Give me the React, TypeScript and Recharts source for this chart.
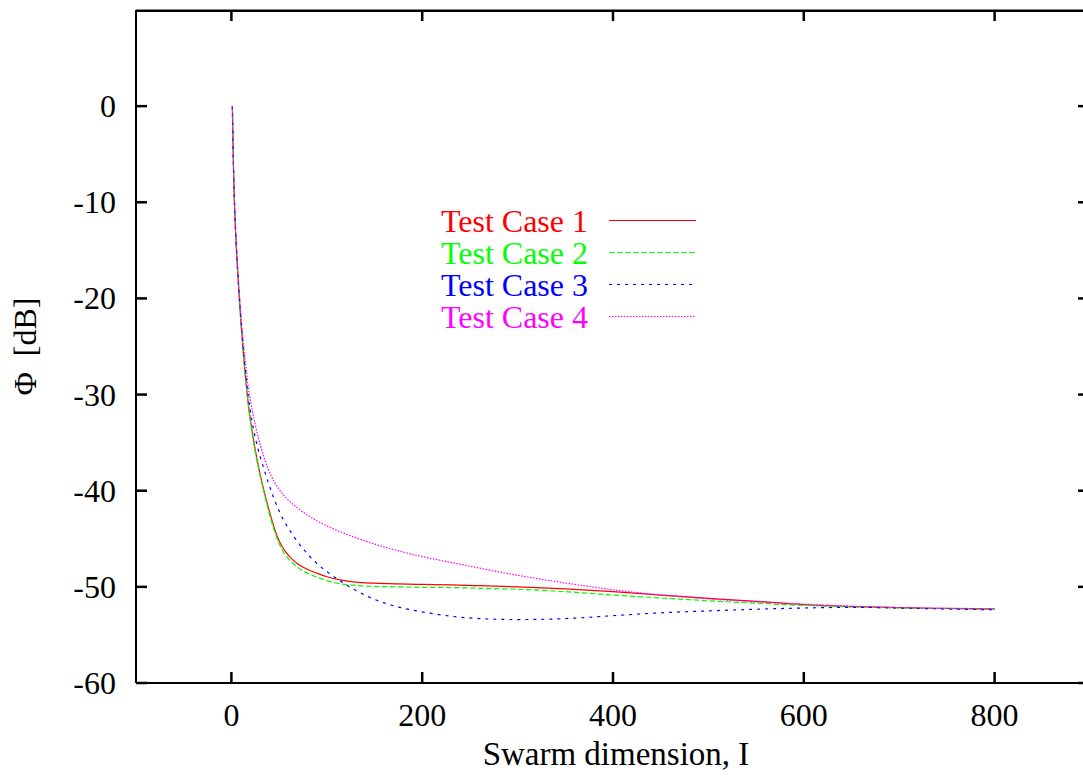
import React from 'react';
import { LineChart, Line, XAxis, YAxis, Legend, ReferenceLine } from 'recharts';

const swarmDim = [1, 2, 3, 4, 6, 8, 10, 12, 14, 18, 22, 27, 34, 42, 46, 50, 55, 60, 65, 70, 80, 90, 100, 115, 130, 150, 175, 200, 230, 260, 300, 350, 400, 450, 500, 550, 600, 650, 700, 750, 800];

const case1 = [0, -5.5, -9.5, -12.2, -16.3, -19.6, -22.5, -25.1, -27.4, -31.2, -34.0, -36.8, -39.95, -42.9, -44.2, -45.2, -46.1, -46.75, -47.25, -47.65, -48.2, -48.6, -48.95, -49.3, -49.5, -49.62, -49.7, -49.75, -49.8, -49.88, -50.0, -50.22, -50.5, -50.85, -51.2, -51.5, -51.85, -52.05, -52.17, -52.24, -52.3];
const case2 = [0, -5.5, -9.5, -12.2, -16.3, -19.6, -22.5, -25.1, -27.4, -31.3, -34.2, -37.0, -40.1, -43.2, -44.45, -45.5, -46.45, -47.1, -47.6, -48.0, -48.6, -49.0, -49.35, -49.7, -49.85, -49.95, -50.0, -50.05, -50.07, -50.15, -50.25, -50.5, -50.85, -51.15, -51.45, -51.7, -51.93, -52.08, -52.2, -52.26, -52.3];
const case3 = [0, -5.5, -9.5, -12.1, -16.1, -19.3, -22.1, -24.6, -26.8, -30.4, -33.0, -35.3, -37.7, -40.1, -41.15, -42.1, -43.1, -43.95, -44.7, -45.4, -46.6, -47.6, -48.4, -49.45, -50.35, -51.3, -52.1, -52.6, -53.05, -53.3, -53.4, -53.3, -53.0, -52.7, -52.5, -52.33, -52.2, -52.13, -52.2, -52.3, -52.38];
const case4 = [0, -5.4, -9.3, -11.9, -15.8, -19.0, -21.7, -24.0, -26.0, -29.4, -31.7, -34.0, -36.5, -38.5, -39.25, -39.85, -40.5, -41.0, -41.45, -41.85, -42.55, -43.15, -43.65, -44.3, -44.88, -45.55, -46.25, -46.85, -47.45, -48.05, -48.8, -49.6, -50.3, -50.85, -51.25, -51.55, -51.8, -52.0, -52.15, -52.25, -52.3];

const seriesNames = ['Test Case 1', 'Test Case 2', 'Test Case 3', 'Test Case 4'];
const seriesKeys = ['c1', 'c2', 'c3', 'c4'];
const seriesColors = ['#ff0000', '#00ff00', '#0000ff', '#ff00ff'];
const seriesDash = ['', '5.5 2.5', '3 5', '1.5 1.5'];

const xTicks = [0, 200, 400, 600, 800];
const yTicks = [-60, -50, -40, -30, -20, -10, 0];
const X_DOMAIN: [number, number] = [-100, 900];
const Y_DOMAIN: [number, number] = [-60, 10];

const data = swarmDim.map((x, i) => ({ x, c1: case1[i], c2: case2[i], c3: case3[i], c4: case4[i] }));

const FONT = "'Liberation Serif', 'Times New Roman', serif";
const TICK_LEN = 11;
const FRAME_W = 2.5;
const FRAME_C = '#000000';

const XTickBottom = (p: any) => (
  <g>
    <rect x={p.x - FRAME_W / 2} y={p.y - TICK_LEN} width={FRAME_W} height={TICK_LEN} fill={FRAME_C} />
    <text x={p.x} y={p.y + 43} textAnchor="middle" style={{ fontFamily: FONT }} fontSize={32} fill="#000">{p.payload.value}</text>
  </g>
);
const YTickLeft = (p: any) => (
  <g>
    <rect x={p.x} y={p.y - FRAME_W / 2} width={TICK_LEN} height={FRAME_W} fill={FRAME_C} />
    <text x={p.x - 20} y={p.y + 11} textAnchor="end" style={{ fontFamily: FONT }} fontSize={32} fill="#000">{p.payload.value}</text>
  </g>
);
const YTickRight = (p: any) => (
  <line x1={p.x} y1={p.y} x2={p.x - TICK_LEN - 1} y2={p.y} stroke="#000" strokeWidth={FRAME_W} />
);

const YLabel = (p: any) => {
  const vb = p.viewBox || {};
  const cy = vb.height ? vb.y + vb.height / 2 : 346;
  const cx = 36;
  return (
    <text x={cx} y={cy} transform={`rotate(-90, ${cx}, ${cy})`} textAnchor="middle" style={{ fontFamily: FONT }} fontSize={32} fill="#000">
      <tspan>Φ</tspan><tspan dx={16}>[dB]</tspan>
    </text>
  );
};
const XLabel = (p: any) => {
  const vb = p.viewBox || {};
  const cx = vb.width ? vb.x + vb.width / 2 + 3 : 616;
  return (
    <text x={cx} y={765} textAnchor="middle" style={{ fontFamily: FONT }} fontSize={33} fill="#000">Swarm dimension, I</text>
  );
};

const LegendBox = () => (
  <svg width={1100} height={782} style={{ position: 'absolute', left: 0, top: 0 }}>
    {seriesNames.map((name, i) => {
      const y = 220.5 + i * 32;
      return (
        <g key={name}>
          <text x={588} y={y + 11} textAnchor="end" style={{ fontFamily: FONT }} fontSize={32} fill={seriesColors[i]}>{name}</text>
          <line x1={609} y1={y} x2={696} y2={y} stroke={seriesColors[i]} strokeWidth={1.2} strokeDasharray={seriesDash[i] || undefined} />
        </g>
      );
    })}
  </svg>
);

export default function App() {
  return (
    <div style={{ position: 'fixed', left: 0, top: 0, width: 1083, height: 782, overflow: 'hidden', background: '#fff' }}>
      <LineChart width={1100} height={782} data={data} margin={{ top: 10, right: 9, bottom: 0, left: 0 }}>
        <ReferenceLine y={9.93} stroke={FRAME_C} strokeWidth={FRAME_W} ifOverflow="visible" />
        {xTicks.map((t) => (
          <ReferenceLine
            key={`top-${t}`}
            segment={[{ x: t, y: 9.9 }, { x: t, y: 8.85 }]}
            stroke={FRAME_C}
            strokeWidth={FRAME_W}
            ifOverflow="visible"
          />
        ))}
        <XAxis
          dataKey="x"
          type="number"
          domain={X_DOMAIN}
          ticks={xTicks}
          allowDataOverflow
          height={99}
          tickSize={0}
          tickMargin={0}
          tickLine={false}
          axisLine={{ stroke: '#000', strokeWidth: 2 }}
          tick={XTickBottom}
          interval={0}
          label={XLabel}
        />
        <YAxis
          type="number"
          domain={Y_DOMAIN}
          ticks={yTicks}
          allowDataOverflow
          width={136}
          tickSize={0}
          tickMargin={0}
          tickLine={false}
          axisLine={{ stroke: '#000', strokeWidth: 2 }}
          tick={YTickLeft}
          interval={0}
          label={YLabel}
        />
        <YAxis
          yAxisId="right"
          orientation="right"
          type="number"
          domain={Y_DOMAIN}
          ticks={yTicks}
          allowDataOverflow
          width={1}
          tickSize={0}
          tickMargin={0}
          tickLine={false}
          axisLine={{ stroke: '#000', strokeWidth: 2 }}
          tick={YTickRight}
          interval={0}
        />
        {seriesKeys.map((k, i) => (
          <Line
            key={k}
            dataKey={k}
            name={seriesNames[i]}
            type="monotone"
            stroke={seriesColors[i]}
            strokeWidth={1.2}
            strokeDasharray={seriesDash[i] || undefined}
            dot={false}
            activeDot={false}
            isAnimationActive={false}
          />
        ))}
        <Legend
          layout="vertical"
          align="center"
          verticalAlign="middle"
          wrapperStyle={{ position: 'absolute', left: 0, top: 0, width: 1100, height: 782, pointerEvents: 'none' }}
          content={LegendBox}
        />
      </LineChart>
    </div>
  );
}
